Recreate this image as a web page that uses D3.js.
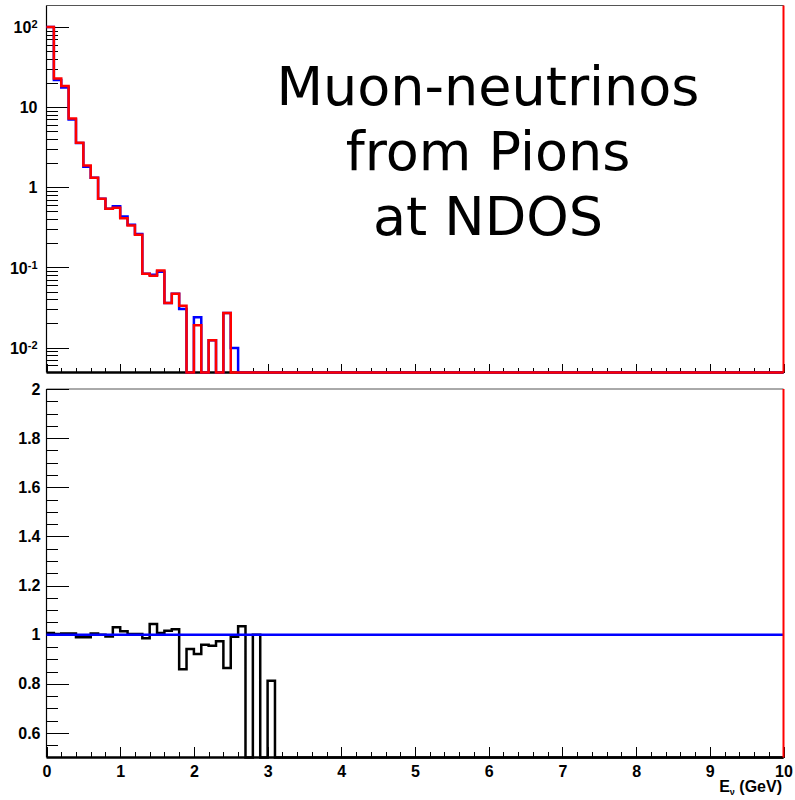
<!DOCTYPE html>
<html lang="en">
<head>
    <meta charset="utf-8" />
    <style>
        body { margin: 0; background: #fff; }
        svg { display: block; }
        .hist { fill: none; stroke-width: 2.5px; stroke-linejoin: miter; }
        .axis text { font-family: "Liberation Sans", Arial, sans-serif; font-weight: bold; font-size: 16px; fill: #000; }
        .axis line { stroke: #000; stroke-width: 1px; shape-rendering: crispEdges; }
        .axis path { display: none; }
        .title { font-family: "DejaVu Sans", sans-serif; font-size: 54px; fill: #000; text-anchor: middle; }
        .xtitle { font-family: "Liberation Sans", Arial, sans-serif; font-weight: bold; font-size: 16px; text-anchor: end; }
    </style>
</head>
<body>
<svg width="795" height="800"></svg>
<script src="https://cdn.jsdelivr.net/npm/d3@7"></script>
<script>

    // bin width 0.1 GeV, 0..10 GeV
    var binWidth = 0.1,
        nBins = 100;

    // upper pad: spectra (log scale)
    var redSpectrum = [100, 22.8, 18.3, 7.2, 3.59, 1.86, 1.31, 0.716, 0.538, 0.553,
                       0.41, 0.333, 0.255, 0.083, 0.0785, 0.0914, 0.0359, 0.0469, 0.0332, 0,
                       0.019, 0, 0.0123, 0, 0.027, 0];
    var blueSpectrum = [100, 21.7, 17.6, 7.0, 3.55, 1.8, 1.31, 0.716, 0.54, 0.58,
                        0.43, 0.34, 0.26, 0.083, 0.081, 0.088, 0.036, 0.047, 0.0303, 0,
                        0.0238, 0, 0.0123, 0, 0.027, 0.0099];

    // lower pad: ratio
    var ratio = [1.007, 1.003, 1.005, 1.005, 0.989, 0.989, 1.005, 1.0, 0.993, 1.03,
                 1.014, 1.003, 1.003, 0.985, 1.043, 1.007, 1.016, 1.022, 0.859, 0.942,
                 0.921, 0.959, 0.955, 0.973, 0.864, 0.992, 1.034, 0, 1.0, 0,
                 0.812];
    var ratioRef = 1;

    var xTicks = [0, 1, 2, 3, 4, 5, 6, 7, 8, 9, 10];
    var logTicks = [0.01, 0.1, 1, 10, 100];
    var ratioTicks = [0.6, 0.8, 1, 1.2, 1.4, 1.6, 1.8, 2];
    var titleLines = ["Muon-neutrinos", "from Pions", "at NDOS"];

    var svg = d3.select("svg");

    var x = d3.scaleLinear().domain([0, 10]).range([46.5, 783.5]);
    var yTop = d3.scaleLog().domain([0.00488, 185]).range([372.5, 5.5]);
    var yBot = d3.scaleLinear().domain([0.5, 2]).range([757.5, 389]);

    function clampTo(scale) {
        var d = scale.domain();
        return function(v) {
            if (!(v > d[0])) return scale(d[0]);
            if (v > d[1]) return scale(d[1]);
            return scale(v);
        };
    }

    function stepPoints(values) {
        var pts = [];
        d3.range(nBins).forEach(function(i) {
            var v = values[i] || 0;
            pts.push([i * binWidth, v], [(i + 1) * binWidth, v]);
        });
        return pts;
    }

    function frame(scaleY) {
        var r = scaleY.range();
        // top + right, thin grey
        svg.append("path")
            .attr("d", d3.line()([[x(0), r[1]], [x(10), r[1]], [x(10), r[0]]]))
            .attr("fill", "none").attr("stroke", "#555").attr("stroke-width", 1);
    }

    function xAxis(scaleY, major, minor) {
        var y0 = scaleY.range()[0];
        var minorVals = d3.range(0, 10.001, 0.2).filter(function(v) { return Math.abs(v - Math.round(v)) > 1e-6; });
        svg.append("g").attr("class", "axis")
            .attr("transform", "translate(0," + y0 + ")")
            .call(d3.axisBottom(x).tickValues(minorVals).tickFormat("").tickSizeInner(-minor).tickSizeOuter(0));
        return svg.append("g").attr("class", "axis")
            .attr("transform", "translate(0," + y0 + ")")
            .call(d3.axisBottom(x).tickValues(xTicks).tickSizeInner(-major).tickSizeOuter(0).tickPadding(4));
    }

    function axisLines(scaleY) {
        var r = scaleY.range();
        svg.append("line")
            .attr("x1", x(0)).attr("x2", x(0)).attr("y1", r[0]).attr("y2", r[1])
            .attr("stroke", "#000").attr("stroke-width", 1.2);
        svg.append("line")
            .attr("x1", x(0)).attr("x2", x(10)).attr("y1", r[0]).attr("y2", r[0])
            .attr("stroke", "#000").attr("stroke-width", 2.5);
    }

    // ---------- upper pad ----------
    frame(yTop);

    var logMinor = [];
    [-3, -2, -1, 0, 1, 2].forEach(function(e) {
        d3.range(2, 10).forEach(function(m) {
            var v = m * Math.pow(10, e);
            if (v > yTop.domain()[0] && v < yTop.domain()[1]) logMinor.push(v);
        });
    });
    svg.append("g").attr("class", "axis")
        .attr("transform", "translate(" + x(0) + ",0)")
        .call(d3.axisLeft(yTop).tickValues(logMinor).tickFormat("").tickSizeInner(-11).tickSizeOuter(0));
    var topY = svg.append("g").attr("class", "axis")
        .attr("transform", "translate(" + x(0) + ",0)")
        .call(d3.axisLeft(yTop).tickValues(logTicks).tickSizeInner(-22).tickSizeOuter(0).tickPadding(9));
    topY.selectAll(".tick text").each(function(d) {
        var t = d3.select(this), e = Math.round(Math.log10(d));
        t.text(null).attr("dy", "0.36em");
        if (e === 0) { t.text("1"); return; }
        if (e === 1) { t.text("10"); return; }
        t.append("tspan").text("10");
        t.append("tspan").attr("dy", "-0.45em").attr("font-size", "11px").text(String(e));
    });

    xAxis(yTop, 9, 4.5).selectAll("text").remove();
    axisLines(yTop);

    var topLine = d3.line().x(function(d) { return x(d[0]); }).y(function(d) { return clampTo(yTop)(d[1]); });

    svg.append("path").attr("class", "hist").attr("stroke", "#0000ff")
        .attr("d", topLine(stepPoints(blueSpectrum)));
    svg.append("path").attr("class", "hist").attr("stroke", "#ff0000")
        .attr("d", topLine(stepPoints(redSpectrum)));
    svg.append("line").attr("stroke", "#ff0000").attr("stroke-width", 2)
        .attr("x1", x(10)).attr("x2", x(10)).attr("y1", yTop.range()[0]).attr("y2", yTop.range()[1]);

    svg.selectAll(".title").data(titleLines).enter()
        .append("text").attr("class", "title")
        .attr("x", 488)
        .attr("y", function(d, i) { return 105 + i * 65; })
        .text(function(d) { return d; });

    // ---------- lower pad ----------
    frame(yBot);

    var ratioMinor = d3.range(0.55, 2.0, 0.05).filter(function(v) {
        return Math.abs(v * 5 - Math.round(v * 5)) > 1e-6;
    });
    svg.append("g").attr("class", "axis")
        .attr("transform", "translate(" + x(0) + ",0)")
        .call(d3.axisLeft(yBot).tickValues(ratioMinor).tickFormat("").tickSizeInner(-11).tickSizeOuter(0));
    svg.append("g").attr("class", "axis")
        .attr("transform", "translate(" + x(0) + ",0)")
        .call(d3.axisLeft(yBot).tickValues(ratioTicks).tickFormat(d3.format("~g"))
              .tickSizeInner(-22).tickSizeOuter(0).tickPadding(6));

    xAxis(yBot, 11, 5.5).selectAll("text").attr("dy", "0.95em");
    axisLines(yBot);

    var botLine = d3.line().x(function(d) { return x(d[0]); }).y(function(d) { return clampTo(yBot)(d[1]); });

    svg.append("path").attr("class", "hist").attr("stroke", "#000").attr("stroke-width", 2)
        .attr("d", botLine(stepPoints(ratio)));
    svg.append("line").attr("stroke", "#0000ff").attr("stroke-width", 2.5)
        .attr("x1", x(0)).attr("x2", x(10)).attr("y1", yBot(ratioRef)).attr("y2", yBot(ratioRef));
    svg.append("line").attr("stroke", "#ff0000").attr("stroke-width", 2)
        .attr("x1", x(10)).attr("x2", x(10)).attr("y1", yBot.range()[0]).attr("y2", yBot.range()[1]);

    var xt = svg.append("text").attr("class", "xtitle").attr("x", 782).attr("y", 792);
    xt.append("tspan").text("E");
    xt.append("tspan").attr("font-size", "9px").attr("dy", "3").text("ν");
    xt.append("tspan").attr("dy", "-3").text(" (GeV)");

</script>
</body>
</html>
